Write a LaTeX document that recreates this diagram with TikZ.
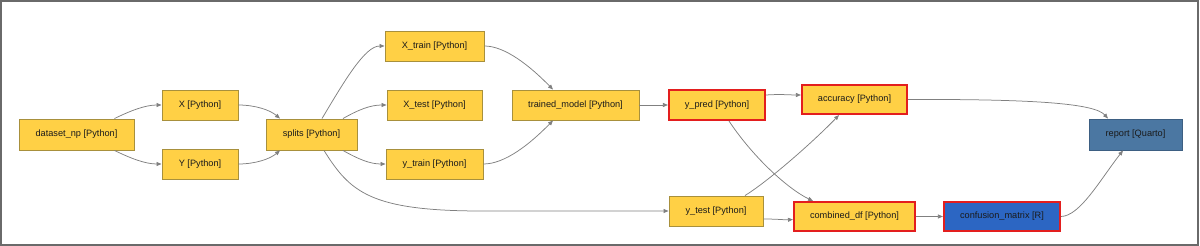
\documentclass[tikz,border=0pt]{standalone}
\usepackage{fontspec}
\setmainfont{Liberation Sans}
\usetikzlibrary{arrows.meta}
\definecolor{nodeyellow}{HTML}{FFD045}
\definecolor{nodegold}{HTML}{A8903C}
\definecolor{nodered}{HTML}{E31E1E}
\definecolor{nodeblue}{HTML}{2C66C3}
\definecolor{nodesteel}{HTML}{4B77A2}
\definecolor{steelborder}{HTML}{3D5F82}
\definecolor{edgegray}{HTML}{808080}
\definecolor{framegray}{HTML}{6A6A6A}
\definecolor{txt}{HTML}{1A1A1A}
\begin{document}
\begin{tikzpicture}[x=1pt,y=-1pt,
  base/.style={rectangle, inner sep=0pt, minimum height=30pt, text=txt,
    font=\fontsize{9.2}{11}\selectfont, line width=0.9pt},
  pybox/.style={base, fill=nodeyellow, draw=nodegold},
  redbox/.style={base, fill=nodeyellow, draw=nodered, line width=2.1pt},
  rbox/.style={base, fill=nodeblue, draw=nodered, line width=2.1pt},
  qbox/.style={base, fill=nodesteel, draw=steelborder},
  edge/.style={draw=edgegray, line width=0.75pt, -{Triangle[length=5pt,width=4pt]}}
]
\useasboundingbox (0,0) rectangle (1200,246);
\draw[framegray, line width=1.6pt] (0.8,0.8) rectangle (1198,245.2);

\node[pybox, minimum width=115pt, minimum height=31pt] (ds) at (76.5,134.5) {dataset\_np [Python]};
\node[pybox, minimum width=76pt] (X) at (200,105) {X [Python]};
\node[pybox, minimum width=76pt] (Y) at (200,164) {Y [Python]};
\node[pybox, minimum width=91pt, minimum height=31pt] (sp) at (311.5,134.5) {splits [Python]};
\node[pybox, minimum width=99pt] (xtr) at (434.5,46) {X\_train [Python]};
\node[pybox, minimum width=95pt] (xte) at (434.5,105) {X\_test [Python]};
\node[pybox, minimum width=97pt] (ytr) at (434.5,164) {y\_train [Python]};
\node[pybox, minimum width=127pt] (tm) at (575.5,105) {trained\_model [Python]};
\node[redbox, minimum width=96pt, minimum height=30pt] (yp) at (717,105) {y\_pred [Python]};
\node[pybox, minimum width=94pt] (yt) at (716,211) {y\_test [Python]};
\node[redbox, minimum width=105pt, minimum height=29pt] (acc) at (854.5,99.5) {accuracy [Python]};
\node[redbox, minimum width=121pt, minimum height=29pt] (cdf) at (854.5,216.5) {combined\_df [Python]};
\node[rbox, minimum width=116pt, minimum height=29pt] (cm) at (1002,216.5) {confusion\_matrix [R]};
\node[qbox, minimum width=93pt, minimum height=31pt] (rep) at (1135.5,134.5) {report [Quarto]};

\path[edge] ([xshift=-20pt]ds.north east) .. controls (130,111) and (145,105) .. (X.west);
\path[edge] ([xshift=-20pt]ds.south east) .. controls (130,158) and (145,164) .. (Y.west);
\path[edge] (X.east) .. controls (255,105) and (270,110) .. ([xshift=-31.5pt]sp.north);
\path[edge] (Y.east) .. controls (255,164) and (270,159) .. ([xshift=-31.5pt]sp.south);
\path[edge] ([xshift=10.5pt]sp.north) .. controls (345,80) and (365,46) .. (xtr.west);
\path[edge] ([xshift=31.5pt]sp.north) .. controls (358,110) and (370,105) .. (xte.west);
\path[edge] ([xshift=31.5pt]sp.south) .. controls (358,159) and (370,164) .. (ytr.west);
\path[edge] ([xshift=12.5pt]sp.south) .. controls (350,192) and (370,211) .. (yt.west -| xte.east) -- (yt.west);
\path[edge] (xtr.east) .. controls (505,46) and (530,66) .. ([xshift=-22.5pt]tm.north);
\path[edge] (ytr.east) .. controls (505,164) and (530,144) .. ([xshift=-22.5pt]tm.south);
\path[edge] (tm.east) -- (yp.west);
\path[edge] ([yshift=10pt]yp.east) .. controls (780,94) and (790,95) .. ([yshift=4.5pt]acc.west);
\path[edge] ([xshift=12pt]yp.south) .. controls (755,160) and (790,190) .. ([xshift=-41.5pt]cdf.north);
\path[edge] ([xshift=29pt]yt.north) .. controls (770,180) and (815,140) .. ([xshift=-15.5pt]acc.south);
\path[edge] ([yshift=-8pt]yt.east) .. controls (778,219) and (785,220) .. ([yshift=-3pt]cdf.west);
\path[edge] (acc.east) .. controls (1040,99) and (1095,104) .. ([xshift=-27.5pt]rep.north);
\path[edge] (cdf.east) -- (cm.west);
\path[edge] (cm.east) .. controls (1080,216) and (1100,180) .. ([xshift=-12.5pt]rep.south);
\end{tikzpicture}
\end{document}
